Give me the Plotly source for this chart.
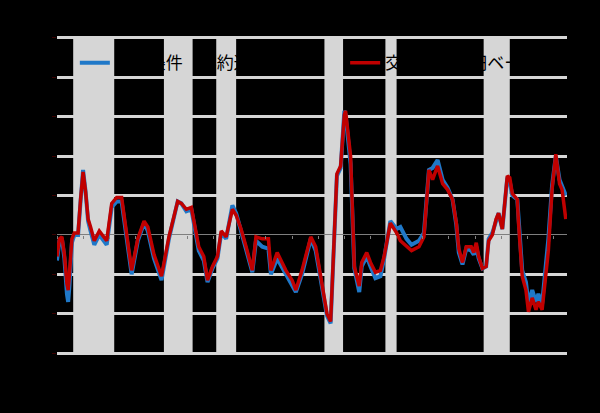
import plotly.graph_objects as go

# ---- data ----
dates = ["1990-01","1990-03","1990-05","1990-07","1990-09","1990-10","1990-11","1991-01","1991-03","1991-06",
         "1991-08","1991-10","1991-12","1992-02","1992-04","1992-07","1992-11","1993-05","1993-09","1994-01",
         "1994-05","1994-07","1995-01","1995-06","1995-11","1996-02","1996-07","1997-01","1997-07","1998-02",
         "1998-05","1998-09","1999-01","1999-07","1999-11","2000-02","2000-06","2000-10","2001-01","2001-05",
         "2001-10","2002-01","2002-05","2002-09","2003-02","2003-05","2003-10","2004-03","2004-05","2004-10",
         "2005-05","2005-10","2006-01","2006-06","2006-10","2007-01","2007-05","2007-10","2008-02","2008-05",
         "2008-10","2009-01","2009-04","2009-05","2009-09","2009-12","2010-02","2010-04","2010-06","2010-10",
         "2011-01","2011-05","2011-09","2011-12","2012-05","2012-10","2013-01","2013-06","2013-10","2014-04",
         "2014-08","2014-12","2015-03","2015-07","2015-11","2016-03","2016-07","2016-10","2016-12","2017-03",
         "2017-06","2017-10","2017-12","2018-02","2018-04","2018-07","2018-10","2018-12","2019-03","2019-06",
         "2019-08","2019-11","2020-03","2020-05","2020-07","2020-11","2020-12","2021-03","2021-06","2021-08",
         "2021-11","2022-02","2022-04","2022-07","2022-10","2022-12","2023-03","2023-06","2023-09","2023-11",
         "2024-02"]

tot_contract = [-6.5,-1.5,-1.0,-6.0,-15.0,-17.0,-13.0,-2.0,0.0,0.0,
                8.5,16.5,11.0,3.5,1.0,-2.5,0.0,-2.5,7.0,8.5,
                8.5,4.0,-10.0,-1.5,3.0,1.0,-6.0,-11.5,-1.0,8.5,
                8.0,6.0,6.5,-4.0,-6.5,-12.0,-8.5,-6.0,0.5,-1.0,
                7.5,5.5,1.0,-4.0,-9.5,-1.5,-3.0,-3.5,-10.0,-6.0,
                -10.0,-12.5,-14.5,-10.0,-5.0,-1.0,-4.0,-13.5,-20.5,-22.5,
                15.0,17.0,31.5,30.5,18.0,-8.5,-11.5,-14.5,-8.0,-5.5,
                -8.0,-11.0,-10.5,-6.0,3.5,1.5,2.0,-1.0,-2.5,-1.5,
                0.5,16.5,17.0,19.0,14.0,12.0,9.0,2.5,-4.5,-7.5,
                -3.5,-4.0,-5.0,-3.0,-6.0,-8.5,-8.0,-1.0,0.5,4.0,
                5.5,1.5,14.5,13.5,10.0,9.0,4.0,-9.0,-12.0,-17.5,
                -14.0,-17.0,-15.0,-17.5,-7.5,-1.0,12.5,20.0,14.0,12.5,
                10.0]

tot_yen = [-5.5,-1.0,-0.5,-5.0,-12.5,-14.0,-10.0,-1.0,0.5,0.5,
           9.0,16.0,11.0,4.0,2.0,-1.5,1.0,-1.5,8.0,9.5,
           9.5,4.5,-9.0,-1.0,3.5,2.0,-5.0,-10.5,-0.5,8.5,
           8.0,6.5,7.0,-3.0,-5.5,-11.5,-8.0,-5.5,1.0,-0.5,
           6.5,5.0,1.5,-3.0,-9.0,-0.5,-1.0,-1.0,-9.0,-4.5,
           -9.0,-11.5,-14.0,-9.0,-4.5,-0.5,-3.0,-13.0,-20.0,-22.0,
           15.5,17.5,30.5,31.5,20.0,-8.0,-10.5,-13.0,-7.0,-4.5,
           -7.0,-9.5,-9.0,-5.5,3.0,0.5,-1.5,-3.0,-4.0,-3.0,
           -0.5,16.5,14.0,17.5,13.0,11.5,9.0,3.0,-3.5,-7.0,
           -3.0,-3.0,-4.5,-2.0,-5.5,-8.5,-8.0,-1.5,0.0,4.0,
           5.5,1.5,15.0,14.5,10.5,9.0,3.0,-10.5,-14.0,-19.5,
           -16.0,-19.0,-17.0,-19.0,-10.5,-4.0,11.5,20.5,13.0,11.5,
           4.0]

recession_start = ["1991-02","1997-03","2000-09","2007-12","2012-01","2018-08"]
recession_end   = ["1993-11","1999-02","2002-01","2009-03","2012-10","2020-05"]

tick_dates = ["1990-01","1991-10","1993-07","1995-04","1997-01","1998-10","2000-07","2002-04","2004-01",
              "2005-10","2007-07","2009-04","2011-01","2012-10","2014-07","2016-04","2018-01","2019-10",
              "2021-07","2023-04"]
tick_text = ["90","91","93","95","97","98","00","02","04","05","07","09","11","12","14","16","18","19","21","23"]

y_ticks = [-30, -20, -10, 0, 10, 20, 30, 40, 50]
y_ticktext = ["\u221230", "\u221220", "\u221210", "0", "10", "20", "30", "40", "50"]

name_contract = "交易条件（契約通貨ベース）"
name_yen = "交易条件（円ベース）"
y_title = "（前年比、％）"
x_unit = "（年）"

FONT = "Liberation Sans, Arial, Noto Sans CJK JP, sans-serif"
TXT = "#000000"
GRID = "#d6d6d6"
X_RANGE = ["1990-01-01", "2024-03-01"]

fig = go.Figure()
fig.add_trace(go.Scatter(x=dates, y=tot_contract, mode="lines", name=name_contract,
                         line=dict(color="#1f78c8", width=4), legend="legend"))
fig.add_trace(go.Scatter(x=dates, y=tot_yen, mode="lines", name=name_yen,
                         line=dict(color="#c00000", width=3.5), legend="legend2"))
# helper axis carrying tick marks on the zero line
fig.add_trace(go.Scatter(x=[], y=[], xaxis="x2", showlegend=False, hoverinfo="skip"))

for s, e in zip(recession_start, recession_end):
    fig.add_shape(type="rect", xref="x", yref="y domain", x0=s, x1=e, y0=0, y1=1,
                  fillcolor=GRID, line=dict(width=0), layer="below")

legend_common = dict(orientation="h", y=0.915, xanchor="left", yanchor="middle",
                     bgcolor="rgba(0,0,0,0)", font=dict(size=17, color=TXT), itemwidth=30)

fig.update_layout(
    width=600, height=413,
    margin=dict(l=57, r=33, t=36, b=58, autoexpand=False),
    paper_bgcolor="#000000", plot_bgcolor="#000000",
    font=dict(family=FONT, color=TXT, size=15),
    showlegend=True,
    legend=dict(x=0.035, **legend_common),
    legend2=dict(x=0.565, **legend_common),
    xaxis=dict(type="date", range=X_RANGE, tickvals=tick_dates, ticktext=tick_text,
               showgrid=False, zeroline=False, showline=False, ticks="",
               tickfont=dict(size=15, color=TXT), ticklabelstandoff=6),
    xaxis2=dict(type="date", range=X_RANGE, overlaying="x", anchor="free", position=0.3775,
                tickvals=tick_dates, showticklabels=False, ticks="outside", ticklen=3,
                tickcolor="#7f7f7f", showgrid=False, zeroline=False, showline=False),
    yaxis=dict(range=[-30.5, 50.5], tickvals=y_ticks, ticktext=y_ticktext,
               showgrid=True, gridcolor=GRID, gridwidth=3,
               zeroline=True, zerolinecolor="#7f7f7f", zerolinewidth=1,
               showline=False, ticks="outside", ticklen=4, tickcolor="#3a0000",
               tickfont=dict(size=19, color=TXT), ticklabelstandoff=6),
    annotations=[
        dict(text=y_title, xref="paper", yref="paper", x=0, y=1, xanchor="left", yanchor="bottom",
             xshift=-6, yshift=-2, showarrow=False, font=dict(size=15, color=TXT)),
        dict(text=x_unit, xref="paper", yref="paper", x=1, y=0, xanchor="right", yanchor="top",
             xshift=8, yshift=-30, showarrow=False, font=dict(size=15, color=TXT)),
    ],
)

fig.write_html("out.html", config={"displayModeBar": False})

# remove the default page margin so the figure sits at the window's top-left corner
with open("out.html", "r", encoding="utf-8") as f:
    html = f.read()
html = html.replace("<head>", "<head><style>html,body{margin:0;padding:0;background:#000;}</style>", 1)
with open("out.html", "w", encoding="utf-8") as f:
    f.write(html)
